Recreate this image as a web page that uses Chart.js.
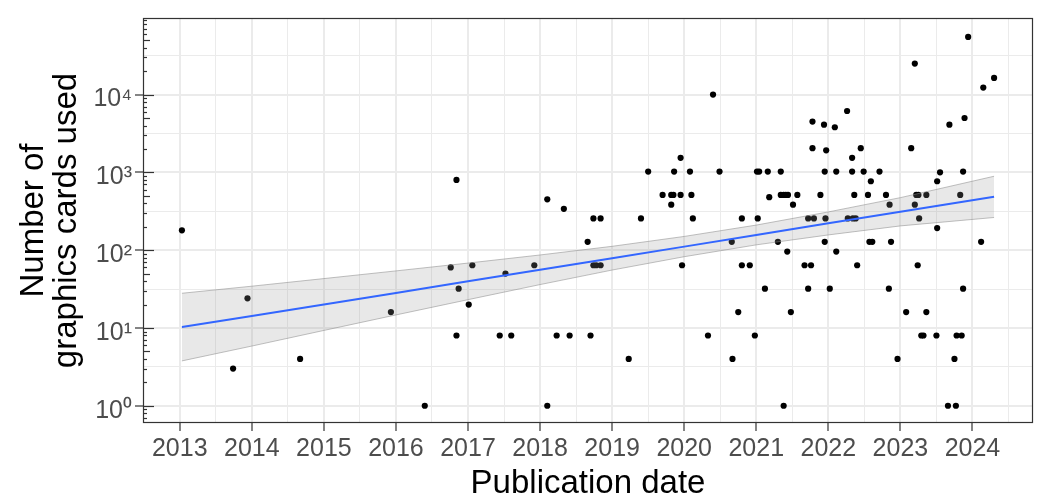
<!DOCTYPE html>
<html>
<head>
<meta charset="utf-8">
<title>Graphics cards used per publication</title>
<script src="https://cdn.jsdelivr.net/npm/chart.js@4.4.1/dist/chart.umd.min.js"></script>
<style>
  html, body { margin: 0; padding: 0; background: #ffffff; }
  #wrap { width: 1037px; height: 501px; }
</style>
</head>
<body>
<div id="wrap"><canvas id="gpu-chart" width="1037" height="501"></canvas></div>
<script>
'use strict';

// one entry per paper: publication date (decimal year) and number of GPUs
const pubDates = [2013.03, 2013.74, 2013.94, 2014.67, 2015.93, 2016.40, 2016.84, 2016.76, 2016.87, 2016.84,
    2017.06, 2017.01, 2017.44, 2017.60, 2017.52, 2017.92, 2018.10, 2018.33, 2018.10, 2018.23,
    2018.41, 2018.66, 2018.74, 2018.84, 2018.74, 2018.78, 2018.84, 2018.70, 2019.23, 2019.40,
    2019.50, 2019.70, 2019.82, 2019.85, 2019.95, 2020.10, 2019.82, 2019.86, 2019.95, 2020.08,
    2020.12, 2019.97, 2020.40, 2020.49, 2020.33, 2020.66, 2020.67, 2020.75, 2020.80, 2020.80,
    2020.91, 2020.98, 2021.01, 2021.04, 2021.02, 2021.12, 2021.16, 2021.18, 2021.30, 2021.34,
    2021.34, 2021.38, 2021.41, 2021.44, 2021.38, 2021.43, 2021.48, 2021.51, 2021.57, 2021.67,
    2021.76, 2021.72, 2021.72, 2021.80, 2021.78, 2021.78, 2021.89, 2021.94, 2021.95, 2021.97,
    2021.96, 2021.95, 2022.02, 2022.09, 2022.11, 2022.11, 2022.26, 2022.27, 2022.34, 2022.38,
    2022.33, 2022.33, 2022.36, 2022.40, 2022.45, 2022.49, 2022.55, 2022.59, 2022.57, 2022.61,
    2022.71, 2022.80, 2022.85, 2022.87, 2022.84, 2022.96, 2023.08, 2023.15, 2023.20, 2023.20,
    2023.22, 2023.25, 2023.26, 2023.24, 2023.29, 2023.32, 2023.36, 2023.36, 2023.50, 2023.51,
    2023.55, 2023.51, 2023.68, 2023.66, 2023.77, 2023.75, 2023.78, 2023.85, 2023.87, 2023.83,
    2023.87, 2023.89, 2023.94, 2024.15, 2024.12, 2024.30];
const gpuCounts = [180, 3, 24, 4, 16, 1, 800, 60, 32, 8,
    64, 20, 8, 8, 50, 64, 450, 340, 1, 8,
    8, 128, 256, 256, 64, 64, 64, 8, 4, 256,
    1024, 512, 512, 512, 512, 512, 384, 1024, 1536, 1024,
    256, 64, 10000, 1024, 8, 128, 4, 16, 256, 64,
    64, 8, 1024, 1024, 256, 32, 1024, 480, 128, 1024,
    512, 512, 512, 512, 1, 96, 16, 384, 512, 64,
    64, 32, 256, 256, 4500, 2048, 512, 4096, 1024, 1920,
    256, 128, 32, 3800, 1024, 96, 6144, 256, 256, 256,
    1536, 1024, 512, 64, 2048, 1024, 512, 768, 128, 128,
    1024, 512, 384, 128, 32, 4, 16, 2048, 25000, 384,
    512, 512, 256, 64, 8, 8, 512, 16, 8, 768,
    1000, 192, 4096, 1, 1, 4, 8, 8, 32, 512,
    1024, 5000, 55000, 12288, 128, 16384];

// linear fit (on log scale) and its confidence band
const fitDates = [2013.03, 2014, 2015, 2016, 2017, 2018, 2019, 2020, 2021, 2022, 2023, 2024.30];
const fitMid = [10.3, 14.2, 20.0, 28.2, 39.7, 56.0, 78.9, 111, 157, 221, 311, 485];
const fitLow = [3.77, 5.85, 9.29, 14.7, 23.1, 36.1, 55.5, 82.4, 117, 157, 205, 263];
const fitHigh = [27.9, 34.4, 43.1, 54.1, 68.2, 86.7, 112, 150, 210, 310, 473, 891];

// axes
const yearTicks = [2013, 2014, 2015, 2016, 2017, 2018, 2019, 2020, 2021, 2022, 2023, 2024];
const powerTicks = [1, 10, 100, 1000, 10000];
const supDigits = ['\u2070', '\u00b9', '\u00b2', '\u00b3', '\u2074', '\u2075'];
const xRange = [2012.49, 2024.84];
const yRange = [0.607, 96400];

const fontFamily = '"Liberation Sans", Arial, Helvetica, sans-serif';

function isPower(v) {
    const l = Math.log10(v);
    return Math.abs(l - Math.round(l)) < 1e-6;
}

function toPoints(xs, ys) {
    return xs.map((x, i) => ({ x: x, y: ys[i] }));
}

// ggplot-style panel border drawn on top of everything
const panelBorder = {
    id: 'panelBorder',
    afterDraw(chart) {
        const { ctx, chartArea: a } = chart;
        ctx.save();
        ctx.strokeStyle = '#333333';
        ctx.lineWidth = 1.2;
        ctx.strokeRect(a.left + 0.5, a.top + 0.5, a.right - a.left - 1, a.bottom - a.top - 1);
        ctx.restore();
    }
};

// log ticks on the inside of the left edge (1..9 x 10^k)
const logTicks = {
    id: 'logTicks',
    afterDraw(chart) {
        const { ctx, chartArea: a } = chart;
        const yScale = chart.scales.y;
        ctx.save();
        ctx.strokeStyle = '#333333';
        ctx.lineWidth = 1.2;
        [0.1].concat(powerTicks).forEach(p => {
            for (let m = 1; m <= 9; m++) {
                const v = m * p;
                if (v < yRange[0] || v > yRange[1]) continue;
                const py = Math.round(yScale.getPixelForValue(v)) + 0.5;
                const len = m === 1 ? 11 : (m === 5 ? 7 : 4);
                ctx.beginPath();
                ctx.moveTo(a.left, py);
                ctx.lineTo(a.left + len, py);
                ctx.stroke();
            }
        });
        ctx.restore();
    }
};

const ctx = document.getElementById('gpu-chart').getContext('2d');
const gpuChart = new Chart(ctx, {
    type: 'scatter',
    data: {
        datasets: [{
            label: 'upper',
            data: toPoints(fitDates, fitHigh),
            showLine: true,
            fill: '+1',
            backgroundColor: 'rgba(150,150,150,0.22)',
            borderColor: 'rgba(140,140,140,0.55)',
            borderWidth: 1,
            pointRadius: 0,
            order: 2
        }, {
            label: 'lower',
            data: toPoints(fitDates, fitLow),
            showLine: true,
            fill: false,
            borderColor: 'rgba(140,140,140,0.55)',
            borderWidth: 1,
            pointRadius: 0,
            order: 2
        }, {
            label: 'fit',
            data: toPoints(fitDates, fitMid),
            showLine: true,
            fill: false,
            borderColor: '#3366FF',
            borderWidth: 2,
            pointRadius: 0,
            order: 1
        }, {
            label: 'papers',
            data: toPoints(pubDates, gpuCounts),
            backgroundColor: '#000000',
            borderWidth: 0,
            pointRadius: 3.1,
            order: 3
        }]
    },
    options: {
        responsive: false,
        animation: false,
        devicePixelRatio: 1,
        layout: { padding: { top: 7, right: 1, left: 0, bottom: 0 } },
        plugins: {
            legend: { display: false },
            tooltip: { enabled: false }
        },
        scales: {
            x: {
                type: 'linear',
                min: xRange[0],
                max: xRange[1],
                afterBuildTicks(scale) {
                    const t = [];
                    yearTicks.forEach(y => { t.push({ value: y - 0.5 }); t.push({ value: y }); });
                    t.push({ value: yearTicks[yearTicks.length - 1] + 0.5 });
                    scale.ticks = t.filter(k => k.value >= xRange[0] && k.value <= xRange[1]);
                },
                afterFit(scale) { scale.height = 78; },
                border: { display: false },
                grid: {
                    color: '#EBEBEB',
                    lineWidth: c => (Number.isInteger(c.tick.value) ? 2 : 1),
                    drawTicks: true,
                    tickLength: 8,
                    tickColor: c => (Number.isInteger(c.tick.value) ? '#333333' : 'rgba(0,0,0,0)'),
                    tickWidth: 1.2
                },
                ticks: {
                    autoSkip: false,
                    maxRotation: 0,
                    padding: 3,
                    color: '#4D4D4D',
                    font: { family: fontFamily, size: 25 },
                    callback: v => (Number.isInteger(v) ? String(v) : '')
                },
                title: {
                    display: true,
                    text: 'Publication date',
                    color: '#000000',
                    font: { family: fontFamily, size: 33, lineHeight: 1 },
                    padding: { top: 0, bottom: 1 }
                }
            },
            y: {
                type: 'logarithmic',
                min: yRange[0],
                max: yRange[1],
                afterBuildTicks(scale) {
                    const t = [];
                    powerTicks.forEach(p => { t.push({ value: p }); t.push({ value: p * Math.sqrt(10) }); });
                    scale.ticks = t.filter(k => k.value >= yRange[0] && k.value <= yRange[1]);
                },
                afterFit(scale) { scale.width = 143; },
                border: { display: false },
                grid: {
                    color: '#EBEBEB',
                    lineWidth: c => (isPower(c.tick.value) ? 2 : 1),
                    drawTicks: true,
                    tickLength: 8,
                    tickColor: c => (isPower(c.tick.value) ? '#333333' : 'rgba(0,0,0,0)'),
                    tickWidth: 1.2
                },
                ticks: {
                    autoSkip: false,
                    padding: 3,
                    labelOffset: 5,
                    color: '#4D4D4D',
                    font: { family: fontFamily, size: 25 },
                    callback: v => (isPower(v) ? '10' + supDigits[Math.round(Math.log10(v))] : '')
                },
                title: {
                    display: true,
                    text: ['Number of', 'graphics cards used'],
                    color: '#000000',
                    font: { family: fontFamily, size: 33, lineHeight: 1 },
                    padding: { top: 17, bottom: 0 }
                }
            }
        }
    },
    plugins: [logTicks, panelBorder]
});
</script>
</body>
</html>
